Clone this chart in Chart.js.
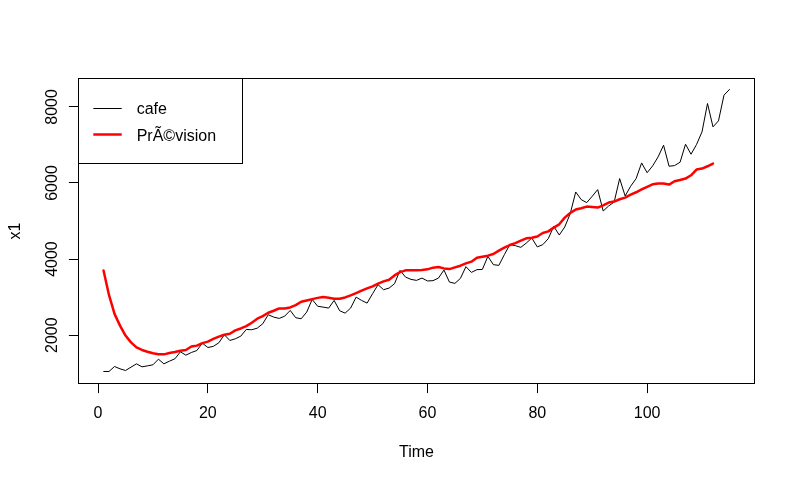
<!DOCTYPE html>
<html><head><meta charset="utf-8">
<script src="https://cdn.jsdelivr.net/npm/chart.js@4/dist/chart.umd.min.js"></script>
<style>html,body{margin:0;padding:0;background:#fff}canvas{display:block}</style>
</head><body>
<canvas id="c" width="795" height="481"></canvas>
<script>
const time = [1,2,3,4,5,6,7,8,9,10,11,12,13,14,15,16,17,18,19,20,21,22,23,24,25,26,27,28,29,30,
31,32,33,34,35,36,37,38,39,40,41,42,43,44,45,46,47,48,49,50,51,52,53,54,55,56,57,58,59,60,
61,62,63,64,65,66,67,68,69,70,71,72,73,74,75,76,77,78,79,80,81,82,83,84,85,86,87,88,89,90,
91,92,93,94,95,96,97,98,99,100,101,102,103,104,105,106,107,108,109,110,111,112,113,114,115];

const cafe = [1045,1045,1176,1115,1071,1158,1246,1167,1193,1220,
1368,1246,1316,1378,1562,1474,1544,1597,1790,1675,
1705,1800,2010,1860,1905,1974,2150,2142,2184,2300,
2537,2474,2440,2500,2650,2458,2432,2605,2940,2760,
2737,2711,2913,2642,2579,2711,3000,2913,2842,3089,
3326,3195,3237,3353,3703,3527,3466,3440,3500,3425,
3432,3500,3711,3395,3361,3492,3800,3650,3721,3729,
4071,3853,3834,4116,4379,4353,4308,4421,4553,4320,
4379,4537,4861,4632,4843,5195,5764,5563,5484,5650,
5826,5264,5395,5500,6116,5658,5914,6116,6527,6270,
6448,6685,6993,6440,6458,6545,7019,6756,7011,7343,
8090,7475,7633,8309,8459];

const prevision = [3700,3050,2560,2250,1990,1810,1680,1610,1565,1525,
1500,1495,1530,1555,1590,1610,1700,1725,1790,1830,
1900,1960,2010,2037,2124,2176,2237,2326,2432,2500,
2590,2642,2703,2703,2729,2790,2879,2913,2948,2980,
3000,2984,2958,2958,2992,3045,3105,3168,3229,3282,
3353,3413,3458,3571,3658,3703,3703,3703,3711,3730,
3774,3790,3755,3737,3782,3826,3887,3932,4037,4063,
4090,4132,4221,4300,4369,4421,4485,4545,4563,4595,
4685,4729,4827,4914,5090,5211,5301,5335,5379,5369,
5353,5414,5485,5511,5572,5616,5695,5756,5830,5900,
5966,5985,5985,5958,6045,6080,6116,6203,6353,6380,
6440,6511];

const xTicks = [0,20,40,60,80,100];
const yTicks = [2000,4000,6000,8000];
const seriesNames = ['cafe','PrÃ©vision'];
const xTitle = 'Time';
const yTitle = 'x1';

const FONT = '16px "Liberation Sans", Arial, sans-serif';

const rAxes = {
  id: 'rAxes',
  afterDraw(chart) {
    const ctx = chart.ctx, a = chart.chartArea, xs = chart.scales.x, ys = chart.scales.y;
    const snap = p => Math.round(p - 0.5) + 0.5;
    ctx.save();
    ctx.strokeStyle = '#000'; ctx.fillStyle = '#000'; ctx.lineWidth = 1;
    ctx.strokeRect(a.left, a.top, a.right - a.left, a.bottom - a.top);
    const tl = 9.6;
    ctx.beginPath();
    const xa = snap(xs.getPixelForValue(xTicks[0])), xb = snap(xs.getPixelForValue(xTicks[xTicks.length - 1]));
    ctx.moveTo(xa, a.bottom); ctx.lineTo(xb, a.bottom);
    xTicks.forEach(v => { const p = snap(xs.getPixelForValue(v)); ctx.moveTo(p, a.bottom); ctx.lineTo(p, a.bottom + tl); });
    const ya = snap(ys.getPixelForValue(yTicks[0])), yb = snap(ys.getPixelForValue(yTicks[yTicks.length - 1]));
    ctx.moveTo(a.left, ya); ctx.lineTo(a.left, yb);
    yTicks.forEach(v => { const p = snap(ys.getPixelForValue(v)); ctx.moveTo(a.left, p); ctx.lineTo(a.left - tl, p); });
    ctx.stroke();

    ctx.font = FONT; ctx.textAlign = 'center'; ctx.textBaseline = 'alphabetic';
    xTicks.forEach(v => ctx.fillText(String(v), xs.getPixelForValue(v), 418));
    yTicks.forEach(v => {
      ctx.save(); ctx.translate(56.7, ys.getPixelForValue(v)); ctx.rotate(-Math.PI / 2);
      ctx.fillText(String(v), 0, 0); ctx.restore();
    });
    ctx.fillText(xTitle, (a.left + a.right) / 2, 457);
    ctx.save(); ctx.translate(20, (a.top + a.bottom) / 2); ctx.rotate(-Math.PI / 2);
    ctx.fillText(yTitle, 0, 0); ctx.restore();

    // legend
    ctx.fillStyle = '#fff';
    ctx.fillRect(a.left, a.top, 164, 85);
    ctx.strokeStyle = '#000'; ctx.lineWidth = 1;
    ctx.strokeRect(a.left, a.top, 164, 85);
    const rows = [
      {y: 108.5, base: 114.3, color: '#000000', w: 1},
      {y: 134.5, base: 140.8, color: '#ff0000', w: 2.5}
    ];
    rows.forEach((r, i) => {
      ctx.beginPath(); ctx.strokeStyle = r.color; ctx.lineWidth = r.w;
      ctx.moveTo(93.3, r.y); ctx.lineTo(121.7, r.y); ctx.stroke();
      ctx.fillStyle = '#000'; ctx.textAlign = 'left';
      ctx.fillText(seriesNames[i], 136.7, r.base);
    });
    ctx.restore();
  }
};

new Chart(document.getElementById('c'), {
  type: 'line',
  data: {
    datasets: [
      { label: seriesNames[0], data: time.map((t, i) => ({x: t, y: cafe[i]})),
        borderColor: '#000000', borderWidth: 1, pointRadius: 0, tension: 0, order: 2,
        borderJoinStyle: 'round', borderCapStyle: 'round' },
      { label: seriesNames[1], data: prevision.map((v, i) => ({x: time[i], y: v})),
        borderColor: '#ff0000', borderWidth: 2.5, pointRadius: 0, tension: 0, order: 1,
        borderJoinStyle: 'round', borderCapStyle: 'round' }
    ]
  },
  options: {
    responsive: false, animation: false, devicePixelRatio: 1,
    layout: { padding: { left: 78.5, top: 78.5, right: 40.5, bottom: 97.5 } },
    scales: {
      x: { type: 'linear', display: false, min: -3.56, max: 119.56 },
      y: { type: 'linear', display: false, min: 729, max: 8747 }
    },
    plugins: { legend: { display: false }, tooltip: { enabled: false } }
  },
  plugins: [rAxes]
});
</script>
</body></html>
